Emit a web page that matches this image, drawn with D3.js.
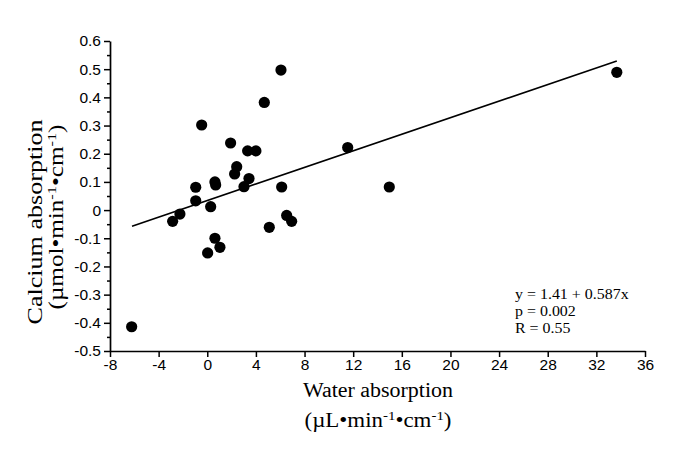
<!DOCTYPE html>
<html>
<head>
<meta charset="utf-8">
<script src="https://cdn.jsdelivr.net/npm/d3@7"></script>
<style>
  html, body { margin: 0; padding: 0; background: #fff; }
  svg { display: block; }
</style>
</head>
<body>
<svg id="chart" width="685" height="453"></svg>
<script>
// ---- data ----
const waterAbsorption = [6.06, 4.69, -0.46, 1.92, 3.32, 4.0, 11.55, 2.42, 2.25, 0.63, 0.69, 3.43, 3.02,
  -0.95, 6.12, 14.97, -0.95, 0.28, -2.25, -2.85, 6.53, 6.94, 5.10, 0.63, 1.04, 0.03, -6.22, 33.68];
const calciumAbsorption = [0.497, 0.382, 0.302, 0.238, 0.210, 0.210, 0.222, 0.154, 0.128, 0.100, 0.089, 0.112, 0.083,
  0.081, 0.082, 0.082, 0.033, 0.012, -0.014, -0.040, -0.019, -0.040, -0.061, -0.100, -0.132, -0.152, -0.414, 0.489];
const fitLineX = [-6.19, 33.68];
const fitLineY = [-0.057, 0.529];
const xTicks = [-8, -4, 0, 4, 8, 12, 16, 20, 24, 28, 32, 36];
const yTicks = [0.6, 0.5, 0.4, 0.3, 0.2, 0.1, 0, -0.1, -0.2, -0.3, -0.4, -0.5];
const yMinorTicks = [0.55, 0.45, 0.35, 0.25, 0.15, 0.05, -0.05, -0.15, -0.25, -0.35, -0.45];
const statsLines = ["y = 1.41 + 0.587x", "p = 0.002", "R = 0.55"];

// ---- chart ----
const svg = d3.select("#chart");
const x = d3.scaleLinear().domain([-8, 36]).range([110, 645]);
const y = d3.scaleLinear().domain([-0.5, 0.6]).range([351, 41]);

const tickFont = "Arial, 'Liberation Sans', Helvetica, sans-serif";
const serif = "'Times New Roman', 'Liberation Serif', Times, serif";
const hyphenMinus = s => s.replace("\u2212", "-");

// x axis
svg.append("g").attr("transform", `translate(0,${y(-0.5)})`)
  .call(d3.axisBottom(x).tickValues(xTicks).tickFormat(d => hyphenMinus(d3.format("d")(d)))
    .tickSize(6).tickSizeOuter(0).tickPadding(2));
// y axis
svg.append("g").attr("transform", `translate(${x(-8)},0)`)
  .call(d3.axisLeft(y).tickValues(yTicks).tickFormat(d => d === 0 ? "0" : hyphenMinus(d3.format(".1f")(d)))
    .tickSize(6).tickSizeOuter(0).tickPadding(3));
svg.append("g").attr("transform", `translate(${x(-8)},0)`)
  .call(d3.axisLeft(y).tickValues(yMinorTicks).tickFormat("").tickSize(3).tickSizeOuter(0))
  .select(".domain").remove();

svg.selectAll(".domain").attr("stroke", "#000").attr("stroke-width", 1.7);
svg.selectAll(".tick line").attr("stroke", "#000").attr("stroke-width", 1.5);
svg.selectAll(".tick text").attr("fill", "#000").style("font-family", tickFont).style("font-size", "15.5px");

// fit line
svg.append("line")
  .attr("x1", x(fitLineX[0])).attr("y1", y(fitLineY[0]))
  .attr("x2", x(fitLineX[1])).attr("y2", y(fitLineY[1]))
  .attr("stroke", "#000").attr("stroke-width", 1.6);

// points
svg.append("g").selectAll("circle")
  .data(waterAbsorption.map((w, i) => [w, calciumAbsorption[i]]))
  .join("circle")
  .attr("cx", d => x(d[0])).attr("cy", d => y(d[1]))
  .attr("r", 5.6).attr("fill", "#000");

// stats annotation
svg.append("g").attr("transform", "translate(515,0) scale(1.1,1)")
  .selectAll("text").data(statsLines).join("text")
  .attr("x", 0).attr("y", (d, i) => 299 + i * 17)
  .style("font-family", serif).style("font-size", "14.5px").attr("fill", "#000")
  .text(d => d);

// axis titles
function unitLabel(sel, prefix) {
  sel.append("tspan").text(prefix + "min");
  sel.append("tspan").attr("baseline-shift", "super").style("font-size", "65%").text("-1");
  sel.append("tspan").text("\u2022cm");
  sel.append("tspan").attr("baseline-shift", "super").style("font-size", "65%").text("-1");
  sel.append("tspan").text(")");
}

svg.append("text").attr("x", 378).attr("y", 397).attr("text-anchor", "middle")
  .attr("textLength", 150).attr("lengthAdjust", "spacingAndGlyphs")
  .style("font-family", serif).style("font-size", "20px").attr("fill", "#000")
  .text("Water absorption");
const xUnit = svg.append("text").attr("x", 378).attr("y", 427).attr("text-anchor", "middle")
  .attr("textLength", 147).attr("lengthAdjust", "spacingAndGlyphs")
  .style("font-family", serif).style("font-size", "20px").attr("fill", "#000");
unitLabel(xUnit, "(\u00b5L\u2022");

svg.append("text").attr("transform", "translate(42,222) rotate(-90)").attr("text-anchor", "middle")
  .attr("textLength", 205).attr("lengthAdjust", "spacingAndGlyphs")
  .style("font-family", serif).style("font-size", "20px").attr("fill", "#000")
  .text("Calcium absorption");
const yUnit = svg.append("text").attr("transform", "translate(63,217) rotate(-90)").attr("text-anchor", "middle")
  .attr("textLength", 185).attr("lengthAdjust", "spacingAndGlyphs")
  .style("font-family", serif).style("font-size", "20px").attr("fill", "#000");
unitLabel(yUnit, "(\u00b5mol\u2022");
</script>
</body>
</html>
